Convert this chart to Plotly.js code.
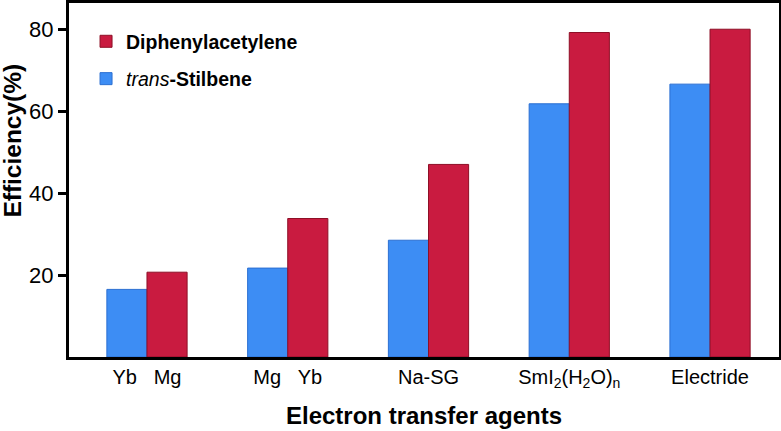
<!DOCTYPE html>
<html>
<head>
<meta charset="utf-8">
<script src="https://cdn.plot.ly/plotly-3.0.1.min.js"></script>
<style>html,body{margin:0;padding:0;background:#fff;}#chart{width:781px;height:431px;}</style>
</head>
<body>
<div id="chart"></div>
<script>
var categories = ["Yb\u00a0\u00a0\u00a0Mg", "Mg\u00a0\u00a0\u00a0Yb", "Na-SG", "SmI<sub>2</sub>(H<sub>2</sub>O)<sub>n</sub>", "Electride"];
var stilbene = [16.5, 21.7, 28.5, 61.8, 66.6];
var diphenylacetylene = [20.7, 33.8, 47.0, 79.2, 80.0];
var yTicks = [20, 40, 60, 80];

var FONT = "Arial, 'Liberation Sans', sans-serif";

var traces = [
  {
    type: "bar", x: categories, y: stilbene,
    name: "<i>trans</i><b>-Stilbene</b>", legendgroup: "s", legendrank: 2,
    marker: {color: "#3d8df4", line: {color: "#2b6fd2", width: 1}}
  },
  {
    type: "bar", x: categories, y: diphenylacetylene,
    name: "<b>Diphenylacetylene</b>", legendgroup: "d", legendrank: 1,
    marker: {color: "#c91b40", line: {color: "#8e0f26", width: 1}}
  }
];

var layout = {
  width: 781, height: 431,
  margin: {l: 69, r: 2, t: 3, b: 74},
  paper_bgcolor: "#fff", plot_bgcolor: "#fff",
  barmode: "group", bargap: 0.43, bargroupgap: 0,
  font: {family: FONT, color: "#000"},
  showlegend: true,
  legend: {
    x: 0.024, y: 0.946, xanchor: "left", yanchor: "top",
    traceorder: "grouped", bgcolor: "rgba(0,0,0,0)",
    font: {size: 19.5, family: FONT, color: "#000"},
    itemwidth: 30, tracegroupgap: 9
  },
  xaxis: {
    type: "category", range: [-0.554, 4.49],
    showline: true, linecolor: "#000", linewidth: 3, mirror: true,
    ticks: "", tickfont: {size: 20, family: FONT},
    showgrid: false, zeroline: false,
    title: {text: "<b>Electron transfer agents</b>", font: {size: 24, family: FONT}, standoff: 17}
  },
  yaxis: {
    range: [0, 86.4],
    tickvals: yTicks, ticktext: yTicks.map(String),
    showline: true, linecolor: "#000", linewidth: 3, mirror: true,
    ticks: "outside", ticklen: 8, tickwidth: 3, tickcolor: "#000",
    tickfont: {size: 22, family: FONT},
    showgrid: false, zeroline: false
  },
  annotations: [{
    text: "<b>Efficiency(%)</b>", textangle: -90,
    xref: "paper", yref: "paper", x: -0.079, y: 0.611,
    xanchor: "center", yanchor: "middle", showarrow: false,
    font: {size: 24.5, family: FONT, color: "#000"}
  }]
};

Plotly.newPlot("chart", traces, layout, {displayModeBar: false, staticPlot: true});
</script>
</body>
</html>
